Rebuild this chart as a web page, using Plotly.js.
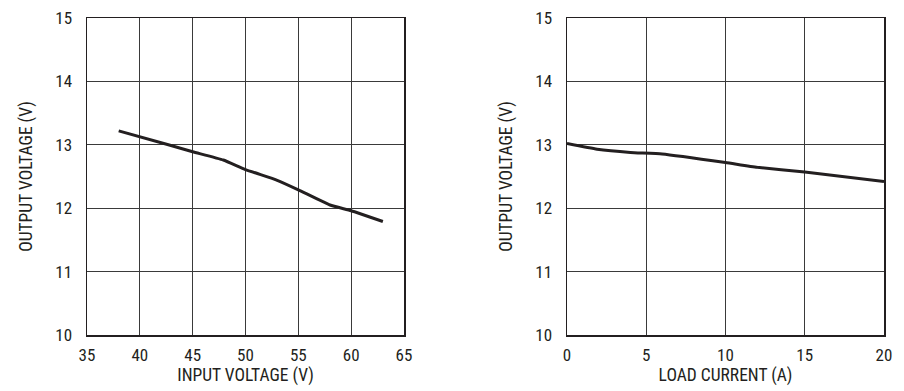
<!DOCTYPE html>
<html>
<head>
<meta charset="utf-8">
<script src="https://cdn.plot.ly/plotly-3.0.1.min.js"></script>
<style>html,body{margin:0;padding:0;background:#fff;}#chart{width:904px;height:391px;}</style>
</head>
<body>
<div id="chart"></div>
<script>
const inputVoltage = [38, 42.7, 45, 47.9, 50, 53, 55, 58, 60, 63];
const outputVsInput = [13.22, 13.0, 12.89, 12.76, 12.61, 12.44, 12.29, 12.05, 11.96, 11.79];
const loadCurrent = [0, 1.9, 4, 6, 10, 12, 15, 20];
const outputVsLoad = [13.02, 12.93, 12.88, 12.855, 12.72, 12.645, 12.57, 12.42];
const yTicks = [10, 11, 12, 13, 14, 15];
const xTicksLeft = [35, 40, 45, 50, 55, 60, 65];
const xTicksRight = [0, 5, 10, 15, 20];

const FONT = '"Roboto Condensed", "Liberation Sans Narrow", "Arial Narrow", sans-serif';
const INK = '#231f20';

function xAxis(domain, range, ticks, title) {
  return {
    domain: domain, range: range, tickvals: ticks, ticktext: ticks.map(String),
    showgrid: true, gridcolor: '#3a3a3a', gridwidth: 1,
    showline: true, linecolor: INK, linewidth: 1.5, mirror: true,
    zeroline: false, ticks: '', ticklabelstandoff: 4,
    tickfont: {family: FONT, size: 17, color: INK},
    title: {text: title, font: {family: FONT, size: 17.5, color: INK}, standoff: 4},
    fixedrange: true
  };
}
function yAxis(anchor, domain) {
  return {
    anchor: anchor, domain: domain, range: [10, 15], tickvals: yTicks, ticktext: yTicks.map(String),
    showgrid: true, gridcolor: '#3a3a3a', gridwidth: 1,
    showline: true, linecolor: INK, linewidth: 1.5, mirror: true,
    zeroline: false, ticks: '', ticklabelstandoff: 10,
    tickfont: {family: FONT, size: 17, color: INK},
    title: {text: 'OUTPUT VOLTAGE (V)', font: {family: FONT, size: 17.5, color: INK}, standoff: 18},
    fixedrange: true
  };
}

const yDom = [56/391, 373/391];
const data = [
  {x: inputVoltage, y: outputVsInput, xaxis: 'x', yaxis: 'y', mode: 'lines',
   line: {color: INK, width: 3, shape: 'spline', smoothing: 0.4}, hoverinfo: 'skip'},
  {x: loadCurrent, y: outputVsLoad, xaxis: 'x2', yaxis: 'y2', mode: 'lines',
   line: {color: INK, width: 3, shape: 'spline', smoothing: 0.4}, hoverinfo: 'skip'}
];
const layout = {
  width: 904, height: 391,
  margin: {l: 0, r: 0, t: 0, b: 0},
  paper_bgcolor: '#fff', plot_bgcolor: '#fff',
  showlegend: false,
  xaxis: Object.assign(xAxis([87/904, 404/904], [35, 65], xTicksLeft, 'INPUT VOLTAGE (V)'), {anchor: 'y'}),
  yaxis: yAxis('x', yDom),
  xaxis2: Object.assign(xAxis([567/904, 884/904], [0, 20], xTicksRight, 'LOAD CURRENT (A)'), {anchor: 'y2'}),
  yaxis2: yAxis('x2', yDom)
};
Plotly.newPlot('chart', data, layout, {staticPlot: true, displayModeBar: false});
</script>
</body>
</html>
